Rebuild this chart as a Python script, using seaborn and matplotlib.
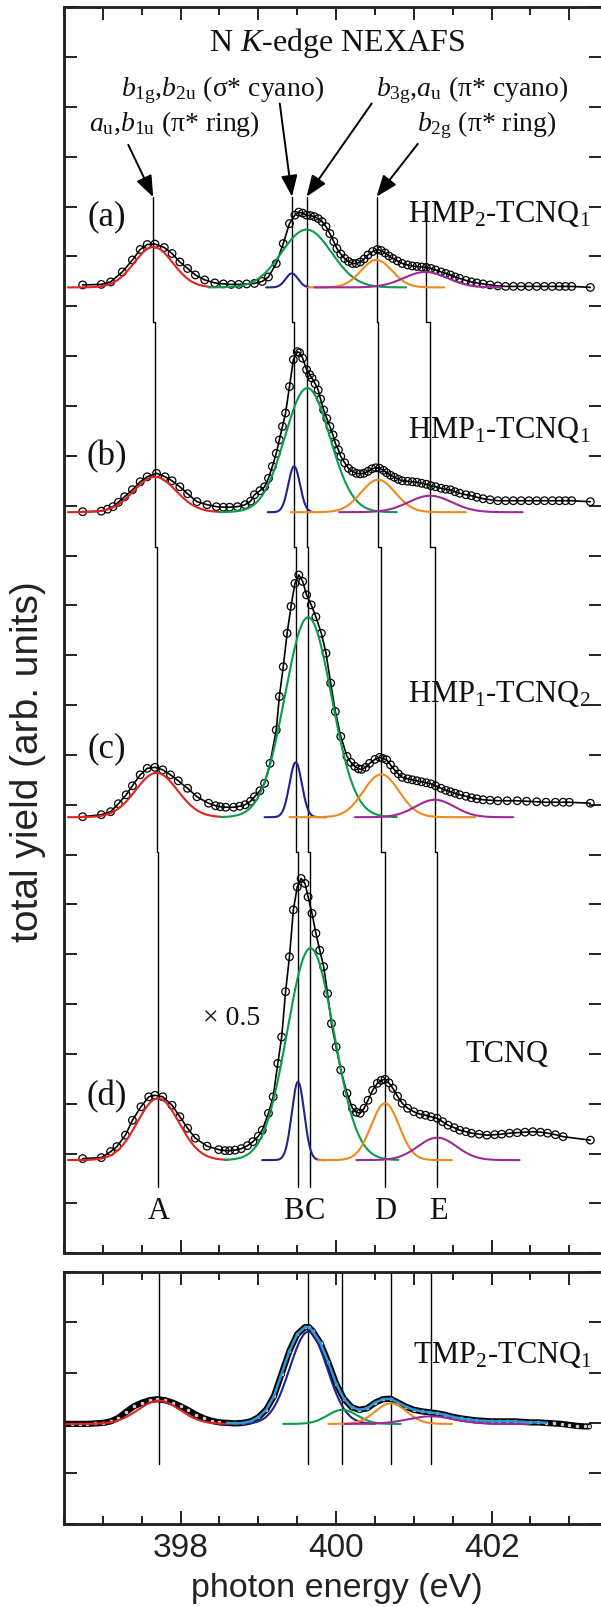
import numpy as np
import matplotlib
matplotlib.use("Agg")
import matplotlib.pyplot as plt
from matplotlib.ticker import MultipleLocator, NullLocator
import seaborn as sns

# ---------------- data ----------------
# photon energy (eV) and intensity (arb. units, relative to each baseline)
E_a = [396.74, 396.98, 397.10, 397.25, 397.38, 397.48, 397.57, 397.67, 397.79, 397.89, 397.99, 398.09,
       398.19, 398.31, 398.44, 398.55, 398.65, 398.75, 398.85, 398.95, 399.05, 399.13, 399.23, 399.32,
       399.40, 399.47, 399.52, 399.57, 399.62, 399.67, 399.72, 399.77, 399.82, 399.87, 399.92, 399.97,
       400.01, 400.06, 400.11, 400.16, 400.21, 400.26, 400.31, 400.36, 400.41, 400.47, 400.53, 400.58,
       400.63, 400.68, 400.73, 400.79, 400.85, 400.92, 400.98, 401.04, 401.10, 401.16, 401.22, 401.28,
       401.35, 401.41, 401.47, 401.53, 401.59, 401.67, 401.74, 401.81, 401.89, 401.98, 402.08, 402.18,
       402.28, 402.38, 402.48, 402.58, 402.68, 402.78, 402.87, 402.95, 403.03, 403.27]
I_a = [0.05, 0.06, 0.11, 0.31, 0.55, 0.76, 0.86, 0.87, 0.80, 0.68, 0.51, 0.38,
       0.25, 0.15, 0.09, 0.07, 0.06, 0.06, 0.07, 0.08, 0.12, 0.21, 0.48, 0.88,
       1.28, 1.45, 1.51, 1.49, 1.45, 1.44, 1.42, 1.38, 1.32, 1.22, 1.08, 0.92,
       0.78, 0.67, 0.58, 0.52, 0.48, 0.48, 0.51, 0.57, 0.65, 0.72, 0.76, 0.74,
       0.69, 0.63, 0.58, 0.53, 0.48, 0.45, 0.43, 0.42, 0.41, 0.40, 0.38, 0.35,
       0.31, 0.28, 0.25, 0.21, 0.18, 0.14, 0.11, 0.09, 0.07, 0.05, 0.03, 0.02,
       0.02, 0.02, 0.02, 0.02, 0.02, 0.02, 0.02, 0.02, 0.02, 0.00]

E_b = [396.74, 396.98, 397.06, 397.13, 397.20, 397.28, 397.38, 397.48, 397.57, 397.69, 397.80, 397.89,
       397.99, 398.09, 398.21, 398.34, 398.46, 398.55, 398.63, 398.73, 398.83, 398.90, 398.95, 399.02,
       399.08, 399.13, 399.18, 399.23, 399.27, 399.31, 399.35, 399.40, 399.45, 399.50, 399.53, 399.57,
       399.62, 399.66, 399.69, 399.73, 399.77, 399.80, 399.84, 399.88, 399.92, 399.96, 399.99, 400.03,
       400.06, 400.11, 400.16, 400.21, 400.26, 400.31, 400.36, 400.41, 400.46, 400.51, 400.56, 400.61,
       400.65, 400.70, 400.75, 400.80, 400.85, 400.92, 400.98, 401.04, 401.10, 401.16, 401.22, 401.28,
       401.35, 401.41, 401.47, 401.53, 401.59, 401.67, 401.74, 401.81, 401.89, 401.98, 402.08, 402.18,
       402.28, 402.38, 402.48, 402.58, 402.68, 402.78, 402.87, 402.95, 403.03, 403.27]
I_b = [0.01, 0.02, 0.06, 0.11, 0.20, 0.31, 0.45, 0.61, 0.71, 0.78, 0.71, 0.63,
       0.51, 0.37, 0.21, 0.15, 0.11, 0.10, 0.10, 0.11, 0.15, 0.22, 0.35, 0.43,
       0.51, 0.68, 0.92, 1.18, 1.45, 1.72, 1.99, 2.52, 3.06, 3.22, 3.20, 3.09,
       2.86, 2.76, 2.69, 2.58, 2.45, 2.27, 2.05, 1.88, 1.72, 1.55, 1.38, 1.25,
       1.12, 0.99, 0.88, 0.82, 0.78, 0.77, 0.78, 0.82, 0.87, 0.89, 0.88, 0.84,
       0.79, 0.74, 0.70, 0.66, 0.63, 0.62, 0.61, 0.60, 0.58, 0.56, 0.53, 0.51,
       0.48, 0.46, 0.45, 0.41, 0.38, 0.35, 0.33, 0.30, 0.27, 0.25, 0.23, 0.23,
       0.23, 0.23, 0.23, 0.23, 0.23, 0.23, 0.23, 0.23, 0.23, 0.21]

E_c = [396.74, 396.98, 397.10, 397.20, 397.30, 397.38, 397.48, 397.57, 397.67, 397.77, 397.87, 397.97,
       398.09, 398.21, 398.36, 398.45, 398.51, 398.58, 398.68, 398.76, 398.83, 398.90, 398.95, 399.02,
       399.08, 399.15, 399.23, 399.27, 399.32, 399.37, 399.42, 399.47, 399.52, 399.57, 399.62, 399.68,
       399.74, 399.81, 399.87, 399.93, 399.99, 400.06, 400.14, 400.19, 400.24, 400.29, 400.33, 400.38,
       400.43, 400.50, 400.56, 400.60, 400.65, 400.70, 400.75, 400.80, 400.85, 400.92, 400.98, 401.04,
       401.10, 401.16, 401.22, 401.28, 401.35, 401.41, 401.47, 401.53, 401.59, 401.67, 401.74, 401.81,
       401.89, 401.98, 402.08, 402.20, 402.33, 402.45, 402.58, 402.70, 402.82, 402.92, 403.00, 403.27]
I_c = [0.01, 0.05, 0.11, 0.27, 0.45, 0.63, 0.85, 0.98, 1.00, 0.95, 0.85, 0.73,
       0.58, 0.41, 0.28, 0.23, 0.21, 0.20, 0.20, 0.22, 0.25, 0.32, 0.41, 0.53,
       0.68, 1.08, 1.75, 2.42, 3.02, 3.69, 4.23, 4.69, 4.86, 4.73, 4.46, 4.26,
       4.02, 3.69, 3.29, 2.69, 2.12, 1.62, 1.22, 1.10, 1.02, 0.97, 0.96, 1.00,
       1.08, 1.16, 1.20, 1.18, 1.15, 1.05, 0.95, 0.87, 0.80, 0.77, 0.75, 0.73,
       0.71, 0.69, 0.67, 0.63, 0.58, 0.54, 0.51, 0.48, 0.45, 0.42, 0.39, 0.37,
       0.35, 0.34, 0.33, 0.33, 0.33, 0.32, 0.31, 0.30, 0.30, 0.30, 0.30, 0.28]

E_d = [396.74, 396.98, 397.10, 397.18, 397.29, 397.38, 397.49, 397.59, 397.67, 397.77, 397.89, 397.99,
       398.09, 398.19, 398.34, 398.49, 398.57, 398.63, 398.70, 398.78, 398.86, 398.93, 399.00, 399.05,
       399.13, 399.19, 399.25, 399.30, 399.35, 399.40, 399.45, 399.50, 399.55, 399.60, 399.64, 399.69,
       399.74, 399.79, 399.84, 399.89, 399.94, 400.00, 400.06, 400.14, 400.21, 400.26, 400.31, 400.36,
       400.41, 400.47, 400.53, 400.58, 400.63, 400.68, 400.73, 400.79, 400.85, 400.92, 401.00, 401.08,
       401.15, 401.22, 401.30, 401.37, 401.44, 401.52, 401.59, 401.67, 401.74, 401.84, 401.94, 402.04,
       402.13, 402.23, 402.33, 402.43, 402.53, 402.63, 402.72, 402.82, 402.92, 403.27]
I_d = [0.03, 0.05, 0.17, 0.27, 0.50, 0.80, 1.07, 1.27, 1.30, 1.27, 1.10, 0.87,
       0.64, 0.44, 0.28, 0.21, 0.19, 0.19, 0.20, 0.23, 0.29, 0.37, 0.48, 0.60,
       0.94, 1.27, 1.94, 2.47, 3.38, 4.08, 5.02, 5.48, 5.65, 5.55, 5.28, 4.95,
       4.55, 4.21, 3.88, 3.34, 2.74, 2.27, 1.81, 1.34, 1.04, 0.96, 0.94, 1.04,
       1.20, 1.40, 1.54, 1.60, 1.62, 1.55, 1.44, 1.28, 1.14, 1.04, 0.97, 0.92,
       0.90, 0.87, 0.84, 0.77, 0.70, 0.65, 0.60, 0.57, 0.54, 0.52, 0.50, 0.51,
       0.52, 0.54, 0.55, 0.56, 0.57, 0.56, 0.54, 0.51, 0.47, 0.40]

# TMP2-TCNQ1 (bottom panel)
E_t = [396.50, 396.60, 396.70, 396.80, 396.90, 397.00, 397.10, 397.20, 397.30, 397.40, 397.50, 397.60,
       397.70, 397.80, 397.90, 398.00, 398.10, 398.20, 398.30, 398.40, 398.50, 398.60, 398.70, 398.80,
       398.90, 399.00, 399.10, 399.20, 399.30, 399.40, 399.50, 399.60, 399.65, 399.70, 399.80, 399.90,
       400.00, 400.10, 400.20, 400.30, 400.40, 400.50, 400.60, 400.70, 400.80, 400.90, 401.00, 401.10,
       401.20, 401.30, 401.40, 401.50, 401.60, 401.70, 401.80, 401.90, 402.00, 402.10, 402.20, 402.30,
       402.40, 402.50, 402.60, 402.70, 402.80, 402.90, 403.00, 403.10, 403.20, 403.25]
I_t = [0.00, 0.00, 0.00, 0.00, 0.01, 0.02, 0.05, 0.12, 0.24, 0.35, 0.42, 0.47,
       0.49, 0.47, 0.42, 0.35, 0.27, 0.18, 0.11, 0.06, 0.03, 0.02, 0.01, 0.02,
       0.05, 0.13, 0.28, 0.55, 1.00, 1.45, 1.78, 1.92, 1.92, 1.84, 1.60, 1.22,
       0.80, 0.50, 0.33, 0.28, 0.31, 0.42, 0.49, 0.50, 0.42, 0.34, 0.28, 0.25,
       0.23, 0.21, 0.18, 0.14, 0.11, 0.09, 0.07, 0.06, 0.05, 0.05, 0.05, 0.05,
       0.04, 0.03, 0.03, 0.02, 0.01, 0.00, -0.02, -0.04, -0.05, -0.05]

# baselines (vertical offsets) of the stacked spectra
offsets_top = {"a": 19.38, "b": 14.87, "c": 8.75, "d": 1.87}
offset_tmp = 1.98

# Gaussian fit components: order = red (A), green (C), navy (B), orange (D), purple (E)
comp_colors = ["#e3231c", "#0a9c4a", "#23238e", "#f0891c", "#a1289b"]
comp_center = {"a": [397.65, 399.62, 399.43, 400.52, 401.15],
               "b": [397.67, 399.63, 399.46, 400.54, 401.21],
               "c": [397.69, 399.64, 399.48, 400.58, 401.27],
               "d": [397.71, 399.67, 399.51, 400.63, 401.30]}
comp_height = {"a": [0.81, 1.16, 0.28, 0.55, 0.31],
               "b": [0.71, 2.49, 0.92, 0.65, 0.33],
               "c": [0.89, 4.01, 1.10, 0.86, 0.35],
               "d": [1.24, 4.25, 1.57, 1.14, 0.45]}
comp_sigma = {"a": [0.25, 0.32, 0.08, 0.20, 0.28],
              "b": [0.27, 0.29, 0.075, 0.22, 0.28],
              "c": [0.27, 0.30, 0.08, 0.23, 0.25],
              "d": [0.27, 0.30, 0.08, 0.18, 0.25]}
comp_start = {"a": [396.55, 398.36, 399.10, 399.64, 399.72],
              "b": [396.55, 398.49, 399.12, 399.42, 400.04],
              "c": [396.55, 398.52, 399.08, 399.40, 400.24],
              "d": [396.55, 398.56, 399.05, 399.77, 400.26]}
comp_end = {"a": [398.44, 400.90, 399.65, 401.39, 402.13],
            "b": [398.49, 400.78, 399.69, 401.67, 402.40],
            "c": [398.52, 400.78, 399.87, 401.79, 402.28],
            "d": [398.61, 400.80, 399.86, 401.49, 402.36]}

# bottom panel components: red, navy, green, orange, purple
tmp_colors = ["#e3231c", "#23238e", "#0a9c4a", "#f0891c", "#a1289b"]
tmp_center = [397.72, 399.644, 400.08, 400.705, 401.22]
tmp_height = [0.46, 1.83, 0.28, 0.41, 0.15]
tmp_sigma = [0.27, 0.24, 0.19, 0.20, 0.30]
tmp_start = [396.50, 398.60, 399.32, 399.90, 400.11]
tmp_end = [398.75, 400.50, 400.83, 401.49, 402.48]
tmp_fit_range = [398.60, 402.75]

sample_names = {"a": r"HMP$_2$-TCNQ$_1$", "b": r"HMP$_1$-TCNQ$_1$",
                "c": r"HMP$_1$-TCNQ$_2$", "d": "TCNQ"}
peak_names = ["A", "B", "C", "D", "E"]
x_ticklabels = ["398", "400", "402"]

# ---------------- styling ----------------
sns.set_theme(style="ticks")
plt.rcParams["font.family"] = ["Liberation Serif", "DejaVu Serif"]
plt.rcParams["mathtext.fontset"] = "custom"
plt.rcParams["mathtext.rm"] = "Liberation Serif"
plt.rcParams["mathtext.it"] = "Liberation Serif:italic"
plt.rcParams["mathtext.bf"] = "Liberation Serif:bold"
plt.rcParams["axes.linewidth"] = 1.8
plt.rcParams["axes.edgecolor"] = "#222222"

W, H = 601, 1607
fig = plt.figure(figsize=(W / 100, H / 100), dpi=100)
fig.patch.set_facecolor("white")


def rect(left, top, right, bottom):
    return [left / W, 1 - bottom / H, (right - left) / W, (bottom - top) / H]


ax1 = fig.add_axes(rect(64, 7.3, 602, 1253.3))
ax2 = fig.add_axes(rect(64, 1271.7, 602, 1523.7))

XLIM = (396.5, 403.42)
TXT = "#111111"


def style_axes(ax, ymax, labels):
    tw = ax.twiny()
    for a in (ax, tw):
        a.set_xlim(*XLIM)
        for s in a.spines.values():
            s.set_linewidth(1.8)
            s.set_color("#222222")
    ax.set_ylim(0, ymax)
    ax.xaxis.set_major_locator(MultipleLocator(2))
    ax.xaxis.set_minor_locator(MultipleLocator(0.5))
    ax.yaxis.set_major_locator(MultipleLocator(1))
    ax.yaxis.set_minor_locator(NullLocator())
    ax.tick_params(axis="x", which="major", direction="in", length=9.4, width=1.4,
                   bottom=True, top=False, labelbottom=labels, labelsize=24, pad=7,
                   color="#222222", labelcolor="#222222", labelfontfamily="Liberation Sans")
    ax.tick_params(axis="x", which="minor", direction="in", length=5.6, width=1.4,
                   bottom=True, top=False, color="#222222")
    ax.tick_params(axis="y", which="major", direction="in", length=9.4, width=1.4,
                   left=True, right=True, labelleft=False, labelright=False, color="#222222")
    tw.xaxis.set_major_locator(MultipleLocator(1))
    tw.xaxis.set_minor_locator(MultipleLocator(0.5))
    tw.tick_params(axis="x", which="major", direction="in", length=9.4, width=1.4,
                   top=True, bottom=False, labeltop=False, color="#222222")
    tw.tick_params(axis="x", which="minor", direction="in", length=5.6, width=1.4,
                   top=True, bottom=False, color="#222222")
    ax.set_xlabel("")
    ax.set_ylabel("")
    ax.grid(False)
    tw.grid(False)
    return tw


tw1 = style_axes(ax1, 25, False)
tw2 = style_axes(ax2, 5, True)
ax2.set_xticks([398, 400, 402])
ax2.set_xticklabels(x_ticklabels)


def gauss_curve(c, h, s, e0, e1):
    x = np.linspace(e0, e1, 250)
    return x, h * np.exp(-0.5 * ((x - c) / s) ** 2)


# ---------------- top panel ----------------
E_all = {"a": E_a, "b": E_b, "c": E_c, "d": E_d}
I_all = {"a": I_a, "b": I_b, "c": I_c, "d": I_d}

for key in ["a", "b", "c", "d"]:
    off = offsets_top[key]
    y = np.array(I_all[key]) + off
    sns.scatterplot(x=E_all[key], y=y, ax=ax1, marker="o", s=30, facecolor="none",
                    edgecolor="black", linewidth=0.9, zorder=3, legend=False)
    sns.lineplot(x=E_all[key], y=y, ax=ax1, color="black", lw=1.2, zorder=4,
                 estimator=None, legend=False)
    for i, col in enumerate(comp_colors):
        x, g = gauss_curve(comp_center[key][i], comp_height[key][i], comp_sigma[key][i],
                           comp_start[key][i], comp_end[key][i])
        sns.lineplot(x=x, y=g + off, ax=ax1, color=col, lw=1.5, zorder=5,
                     estimator=None, legend=False)

# vertical peak-position lines with jogs between spectra
line_order = [0, 2, 1, 3, 4]  # A=red, B=navy, C=green, D=orange, E=purple
y_tops = [21.2, 21.2, 21.2, 21.2, 20.85]
jogs = [18.69, 14.18, 8.06]
y_bottom = 1.34
for n, ci in enumerate(line_order):
    xs = [comp_center[k][ci] for k in ["a", "b", "c", "d"]]
    px = [xs[0], xs[0], xs[1], xs[1], xs[2], xs[2], xs[3], xs[3]]
    py = [y_tops[n], jogs[0], jogs[0], jogs[1], jogs[1], jogs[2], jogs[2], y_bottom]
    ax1.plot(px, py, color="black", lw=1.0, zorder=2)

# peak letters
letter_x = [397.715, 399.45, 399.73, 400.63, 401.31]
for name, lx in zip(peak_names, letter_x):
    ax1.text(lx, 0.68, name, ha="center", va="baseline", fontsize=22, color=TXT)

# spectrum labels and sample names
panel_y = {"a": 20.80, "b": 15.98, "c": 10.13, "d": 3.14}
for key in ["a", "b", "c", "d"]:
    ax1.text(397.05, panel_y[key], f"({key})", ha="center", va="center", fontsize=25, color=TXT)
name_pos = {"a": (400.92, 20.70), "b": (400.92, 16.35), "c": (400.92, 11.07), "d": (401.67, 3.84)}
for key in ["a", "b", "c", "d"]:
    ax1.text(name_pos[key][0], name_pos[key][1], sample_names[key], ha="left", va="baseline",
             fontsize=22, color=TXT, clip_on=False)
ax1.text(398.66, 4.71, "× 0.5", ha="center", va="center", fontsize=20, color=TXT)

# title and assignments with arrows
ax1.text(400.01, 24.13, r"N $K$-edge NEXAFS", ha="center", va="baseline", fontsize=23, color=TXT)
ax1.text(397.92, 22.52, r"$a_{\rm u}$,$b_{\rm 1u}$ (π* ring)", ha="center", va="baseline",
         fontsize=20, color=TXT)
ax1.text(398.54, 23.21, r"$b_{\rm 1g}$,$b_{\rm 2u}$ (σ* cyano)", ha="center", va="baseline",
         fontsize=20, color=TXT)
ax1.text(401.75, 23.21, r"$b_{\rm 3g}$,$a_{\rm u}$ (π* cyano)", ha="center", va="baseline",
         fontsize=20, color=TXT)
ax1.text(401.94, 22.52, r"$b_{\rm 2g}$ (π* ring)", ha="center", va="baseline",
         fontsize=20, color=TXT)
arrows = [((397.327, 22.24), (397.648, 21.19)),
          ((399.275, 23.07), (399.433, 21.2)),
          ((400.458, 23.07), (399.62, 21.2)),
          ((401.05, 22.26), (400.52, 21.2))]
for start, tip in arrows:
    ax1.annotate("", xy=tip, xytext=start,
                 arrowprops=dict(arrowstyle="-|>,head_length=1.3,head_width=0.5",
                                 mutation_scale=10, lw=1.4, color="black",
                                 shrinkA=0, shrinkB=0))

# ---------------- bottom panel ----------------
yt = np.array(I_t) + offset_tmp
sns.lineplot(x=E_t, y=yt, ax=ax2, color="black", lw=4.5, zorder=3, estimator=None, legend=False)
sns.scatterplot(x=E_t, y=yt, ax=ax2, marker="o", s=10, facecolor="#cccccc",
                edgecolor="black", linewidth=0.5, zorder=3, legend=False)
for i, col in enumerate(tmp_colors):
    x, g = gauss_curve(tmp_center[i], tmp_height[i], tmp_sigma[i], tmp_start[i], tmp_end[i])
    sns.lineplot(x=x, y=g + offset_tmp, ax=ax2, color=col, lw=1.5, zorder=5,
                 estimator=None, legend=False)
mask = (np.array(E_t) >= tmp_fit_range[0]) & (np.array(E_t) <= tmp_fit_range[1])
sns.lineplot(x=np.array(E_t)[mask], y=yt[mask], ax=ax2, color="#2a9ad8", lw=1.8, zorder=6,
             estimator=None, legend=False)
for c in tmp_center:
    ax2.plot([c, c], [5.0, 1.18], color="black", lw=1.0, zorder=2)
ax2.text(400.99, 3.18, r"TMP$_2$-TCNQ$_1$", ha="left", va="baseline", fontsize=22,
         color=TXT, clip_on=False)

# ---------------- axis labels ----------------
fig.text(337 / W, 1 - 1589 / H, "photon energy (eV)", ha="center", va="center",
         fontsize=24.5, family="Liberation Sans", color="#222222")
fig.text(28 / W, 1 - 762 / H, "total yield (arb. units)", ha="center", va="center",
         rotation=90, fontsize=28, family="Liberation Sans", color="#222222")

fig.savefig("out.png", dpi=100, facecolor="white")
